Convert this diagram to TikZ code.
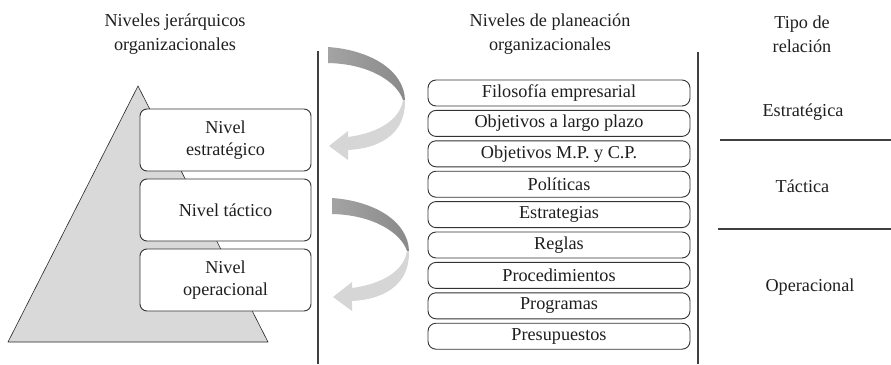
\documentclass[tikz,border=0pt]{standalone}
\usepackage{fontspec}
\setmainfont{Liberation Serif}
\begin{document}
\begin{tikzpicture}[x=1pt,y=-1pt,
  txt/.style={font=\fontsize{18.2}{24}\selectfont, text=black!88, align=center, inner sep=0pt},
  lvlbox/.style={txt, font=\fontsize{18.2}{22}\selectfont, draw=black!80, line width=0.9pt, fill=white, rounded corners=7pt, minimum width=171pt, minimum height=62pt},
  planbox/.style={txt, draw=black!80, line width=0.9pt, fill=white, rounded corners=8pt, minimum width=262pt, minimum height=26pt},
  divider/.style={draw=black!75, line width=1.5pt},
  darkpart/.style={left color=black!36, right color=black!46, draw=none},
  lightpart/.style={fill=black!16, draw=none}]
\useasboundingbox (0,0) rectangle (891,364);
% titles
\node[txt] (t1) at (175,34) {Niveles jerárquicos\\organizacionales};
\node[txt] (t2) at (550,34) {Niveles de planeación\\organizacionales};
\node[txt] (t3) at (802,34) {Tipo de\\relación};
% pyramid
\draw[fill=black!15, draw=black!85, line width=0.6pt] (138,86) -- (268,342) -- (8,342) -- cycle;
% level boxes
\node[lvlbox] (n1) at (225.5,140) {Nivel\\estratégico};
\node[lvlbox] (n2) at (225.5,210) {Nivel táctico};
\node[lvlbox] (n3) at (225.5,280) {Nivel\\operacional};
% vertical dividers
\coordinate (v1a) at (318,51); \coordinate (v1b) at (318,364);
\coordinate (v2a) at (698,52); \coordinate (v2b) at (698,364);
\draw[divider] (v1a) -- (v1b);
\draw[divider] (v2a) -- (v2b);
% arrows
\foreach \dx/\dy in {0/0, 4/151}{
\begin{scope}[shift={(\dx,\dy)}]
\shade[darkpart] (328,47) .. controls (370,50) and (404,70) .. (405,100) -- (403,100) .. controls (397,82) and (370,64) .. (328,63) -- cycle;
\fill[lightpart] (405,100) .. controls (406,130) and (385,148) .. (348,150) -- (348,160) -- (329,146) -- (348,131) -- (348,137) .. controls (378,133) and (400,120) .. (403,100) -- cycle;
\end{scope}}
% planning boxes
\node[planbox] (p1) at (559,93) {Filosofía empresarial};
\node[planbox] (p2) at (559,123.4) {Objetivos a largo plazo};
\node[planbox] (p3) at (559,153.8) {Objetivos M.P. y C.P.};
\node[planbox] (p4) at (559,184.2) {Políticas};
\node[planbox] (p5) at (559,214.6) {Estrategias};
\node[planbox] (p6) at (559,245) {Reglas};
\node[planbox] (p7) at (559,275.4) {Procedimientos};
\node[planbox] (p8) at (559,305.8) {Programas};
\node[planbox] (p9) at (559,336.2) {Presupuestos};
% relation types
\node[txt] (r1) at (803,112) {Estratégica};
\node[txt] (r2) at (802.5,186) {Táctica};
\node[txt] (r3) at (810,287) {Operacional};
\coordinate (h1a) at (720,140); \coordinate (h1b) at (891,140);
\coordinate (h2a) at (718,229); \coordinate (h2b) at (891,229);
\draw[divider] (h1a) -- (h1b);
\draw[divider] (h2a) -- (h2b);
\end{tikzpicture}
\end{document}
